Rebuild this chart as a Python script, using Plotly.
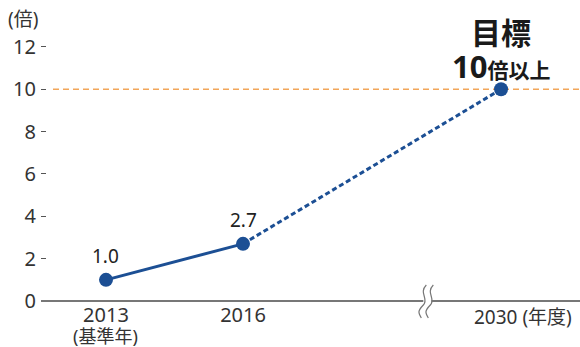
import plotly.graph_objects as go

# ---- data ----
years = [2013, 2016, 2030]
values = [1.0, 2.7, 10.0]
value_labels = ["1.0", "2.7", None]
x_tick_labels = ["2013", "2016", ""]
base_year_note = "(基準年)"
last_label = "2030 (年度)"
y_tick_values = [0, 2, 4, 6, 8, 10, 12]
y_tick_labels = ["0", "2", "4", "6", "8", "10", "12"]
target_value = 10
target_title = "目標"
target_text_num = "10"
target_text_unit = "倍以上"
y_unit = "(倍)"
break_year = 2026  # where the axis break symbol sits

# ---- broken x scale (compressed after 2016) ----
BREAK_START = 2016
COMPRESS = 0.4036


def xs(year):
    if year <= BREAK_START:
        return year - years[0]
    return (BREAK_START - years[0]) + (year - BREAK_START) * COMPRESS


W, H = 580, 347
ML, MR, MT, MB = 41, 0, 0, 46
PW, PH = W - ML - MR, H - MT - MB
X_RANGE = [-1.423, -1.423 + PW / 45.67]
Y_RANGE = [0, PH / 21.17]

FONT = "Noto Sans, Noto Sans CJK JP"
TXT = "#333333"
BLUE = "#1c4f94"
ORANGE = "#f2a65a"

xp = [xs(y) for y in years]

fig = go.Figure()

# actual (solid)
fig.add_trace(go.Scatter(x=xp[:2], y=values[:2], mode="lines",
                         line=dict(color=BLUE, width=3), hoverinfo="skip"))
# projection (dashed)
fig.add_trace(go.Scatter(x=xp[1:], y=values[1:], mode="lines",
                         line=dict(color=BLUE, width=3, dash="5px,3px"), hoverinfo="skip"))
# markers
fig.add_trace(go.Scatter(x=xp, y=values, mode="markers",
                         marker=dict(color=BLUE, size=14), hoverinfo="skip",
                         cliponaxis=False))

# target line
fig.add_shape(type="line", xref="paper", yref="y",
              x0=(53 - ML) / PW, x1=1, y0=target_value, y1=target_value,
              line=dict(color=ORANGE, width=1.5, dash="6px,4px"), layer="below")

# value labels
for x, v, lab in zip(xp, values, value_labels):
    if lab:
        fig.add_annotation(x=x, y=v, text=lab, showarrow=False, yanchor="bottom",
                           yshift=9, font=dict(family=FONT, size=19, color="#222222"))

# target annotation
fig.add_annotation(x=xp[2], y=target_value, text=f"<b>{target_title}</b>", showarrow=False,
                   yanchor="middle", yshift=58, font=dict(family="Noto Sans CJK JP", size=30, color="#1a1a1a"))
fig.add_annotation(x=xp[2], y=target_value,
                   text=f"<b><span style='font-size:31px'>{target_text_num}</span>"
                        f"<span style='font-size:21px;font-family:Noto Sans CJK JP'>{target_text_unit}</span></b>",
                   showarrow=False, yanchor="middle", yshift=23,
                   font=dict(family=FONT, size=21, color="#1a1a1a"))

# unit labels
fig.add_annotation(xref="paper", yref="paper", x=-1 / PW, y=(PH - 19) / PH,
                   text=y_unit, showarrow=False, xanchor="right", yanchor="middle",
                   font=dict(family=FONT, size=19, color=TXT))
fig.add_annotation(xref="paper", x=(574 - ML) / PW, y=0, text=last_label, showarrow=False,
                   xanchor="right", yanchor="middle", yshift=-16,
                   font=dict(family=FONT, size=19, color=TXT))
fig.add_annotation(x=xp[0], y=0, text=base_year_note, showarrow=False,
                   xanchor="center", yanchor="middle", yshift=-35,
                   font=dict(family=FONT, size=18, color=TXT))

# axis break symbol
bx = xs(break_year)
pxu = (X_RANGE[1] - X_RANGE[0]) / PW


def py(p):  # pixel offset from axis (down positive) -> paper y
    return -p / PH


fig.add_shape(type="rect", xref="x", yref="paper",
              x0=bx - 4 * pxu, x1=bx + 4 * pxu, y0=py(3), y1=py(-3),
              fillcolor="white", line=dict(width=0), layer="above")
for off in (-4, 3):
    x0 = bx + off * pxu
    path = (f"M {x0 + 3 * pxu},{py(-16)} "
            f"C {x0 - 5 * pxu},{py(-8)} {x0 + 6 * pxu},{py(-2)} {x0},{py(4)} "
            f"S {x0 - 5 * pxu},{py(12)} {x0 - 2 * pxu},{py(17)}")
    fig.add_shape(type="path", xref="x", yref="paper", path=path,
                  line=dict(color="#777777", width=1.2), layer="above")

fig.update_xaxes(range=X_RANGE, showgrid=False, zeroline=False, automargin=False,
                 showline=False, tickvals=xp, ticktext=x_tick_labels, ticks="",
                 tickfont=dict(family=FONT, size=20, color=TXT), ticklabelstandoff=0)
fig.update_yaxes(range=Y_RANGE, showgrid=False, zeroline=True, zerolinecolor="#777777",
                 zerolinewidth=2, showline=False, tickvals=y_tick_values, automargin=False,
                 ticktext=y_tick_labels, ticks="inside", ticklen=5, tickwidth=1,
                 tickcolor="#555555", ticklabelstandoff=4,
                 tickfont=dict(family=FONT, size=20, color=TXT))

fig.update_layout(width=W, height=H, margin=dict(l=ML, r=MR, t=MT, b=MB),
                  plot_bgcolor="white", paper_bgcolor="white", showlegend=False)

fig.write_html("out.html")
